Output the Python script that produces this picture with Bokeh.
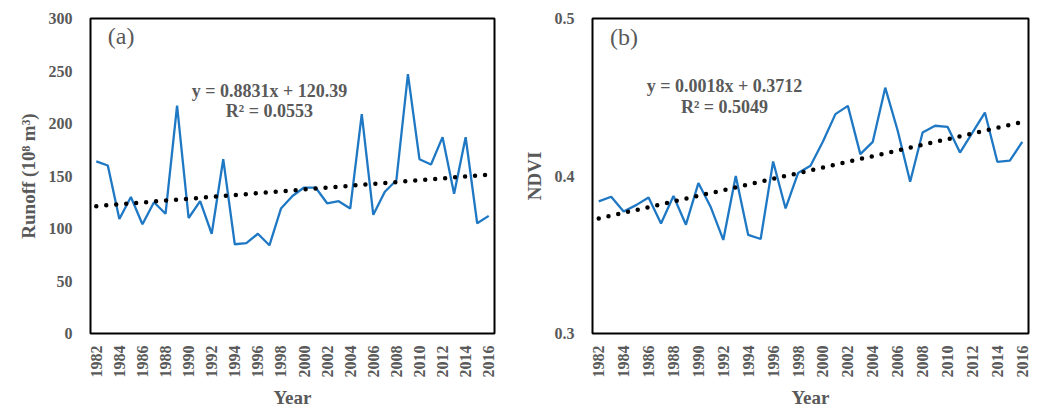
import math
from bokeh.plotting import figure
from bokeh.layouts import row
from bokeh.models import FixedTicker, Label, Range1d
from bokeh.embed import file_html
from bokeh.resources import INLINE

years = list(range(1982, 2017))
runoff = [164, 160, 109, 130, 104, 125, 114, 217, 110, 126, 95, 166, 85, 86, 95, 84,
          119, 131, 139, 139, 124, 126, 119, 209, 113, 135, 146, 247, 166, 161, 187,
          133, 187, 105, 112]
ndvi = [0.3839, 0.3868, 0.3775, 0.3815, 0.3864, 0.3699, 0.3873, 0.3691, 0.3955, 0.3801,
        0.3594, 0.4000, 0.3626, 0.3600, 0.4092, 0.3794, 0.4019, 0.4065, 0.4219, 0.4393,
        0.4445, 0.4139, 0.4217, 0.4561, 0.4287, 0.3964, 0.4276, 0.4319, 0.4312, 0.4149,
        0.4276, 0.4403, 0.4090, 0.4097, 0.4217]
runoff_fit = (0.8831, 120.39, 0.0553)
ndvi_fit = (0.0018, 0.3712, 0.5049)
year_ticks = list(range(1982, 2017, 2))
runoff_ticks = [0, 50, 100, 150, 200, 250, 300]
ndvi_ticks = [0.3, 0.4, 0.5]

FONT = "Liberation Serif"
GREY = "#595959"
BLUE = "#1f78c4"


def make_panel(values, fit, yr, yticks, ylabel, tag, eq_pos, tag_pos, size, borders, eq_fmt):
    bl, br, bt, bb = borders
    p = figure(width=size[0], height=size[1], output_backend="svg", toolbar_location=None,
               x_range=Range1d(years[0] - 0.5, years[-1] + 0.5), y_range=Range1d(*yr),
               min_border_left=bl, min_border_right=br, min_border_top=bt,
               min_border_bottom=bb)
    p.background_fill_color = "white"
    p.border_fill_color = "white"
    p.outline_line_color = "black"
    p.outline_line_width = 2
    p.xgrid.visible = False
    p.ygrid.visible = False

    idx = list(range(1, len(years) + 1))
    trend = [fit[0] * i + fit[1] for i in idx]
    p.line(years, values, line_color=BLUE, line_width=2.3)
    p.line(years, trend, line_color="black", line_width=4.5, line_dash="0 10",
           line_cap="round")

    for ax in (p.xaxis[0], p.yaxis[0]):
        ax.axis_line_color = None
        ax.major_tick_out = 0
        ax.major_tick_in = 0
        ax.minor_tick_out = 0
        ax.minor_tick_in = 0
        ax.major_label_text_font = FONT
        ax.major_label_text_font_style = "bold"
        ax.major_label_text_color = GREY
        ax.major_label_text_font_size = "16px"
        ax.axis_label_text_font = FONT
        ax.axis_label_text_font_style = "bold"
        ax.axis_label_text_color = GREY
        ax.axis_label_text_font_size = "19px"

    p.xaxis.ticker = FixedTicker(ticks=year_ticks)
    p.xaxis.major_label_orientation = math.pi / 2
    p.xaxis.major_label_standoff = 12
    p.xaxis.axis_label = "Year"
    p.xaxis.axis_label_standoff = 6

    p.yaxis.ticker = FixedTicker(ticks=yticks)
    p.yaxis.major_label_standoff = 18
    p.yaxis.axis_label = ylabel
    p.yaxis.axis_label_standoff = 7

    ex, ey1, ey2 = eq_pos
    p.add_layout(Label(x=ex, y=ey1, text=eq_fmt[0].format(fit[0], fit[1]),
                       text_align="center", text_baseline="middle",
                       text_font=FONT, text_font_style="bold", text_color=GREY,
                       text_font_size="18px"))
    p.add_layout(Label(x=ex, y=ey2, text=eq_fmt[1].format(fit[2]),
                       text_align="center", text_baseline="middle",
                       text_font=FONT, text_font_style="bold", text_color=GREY,
                       text_font_size="18px"))
    p.add_layout(Label(x=tag_pos[0], y=tag_pos[1], text=tag, text_align="left",
                       text_baseline="top", text_font=FONT, text_color=GREY,
                       text_font_size="24px"))
    return p


left = make_panel(runoff, runoff_fit, (0, 300), runoff_ticks, "Runoff (10⁸ m³)", "(a)",
                  (1997.0, 231, 212), (1983.0, 296), (520, 410), (90, 26, 18, 75),
                  ("y = {:.4f}x + {:.2f}", "R² = {:.4f}"))
right = make_panel(ndvi, ndvi_fit, (0.3, 0.5), ndvi_ticks, "NDVI", "(b)",
                   (1992.1, 0.4572, 0.4439), (1982.9, 0.4965), (516, 410), (72, 8, 17, 77),
                   ("y = {:.4f}x + {:.4f}", "R² = {:.4f}"))

layout = row(left, right)
open("out.html", "w").write(file_html(layout, INLINE))
